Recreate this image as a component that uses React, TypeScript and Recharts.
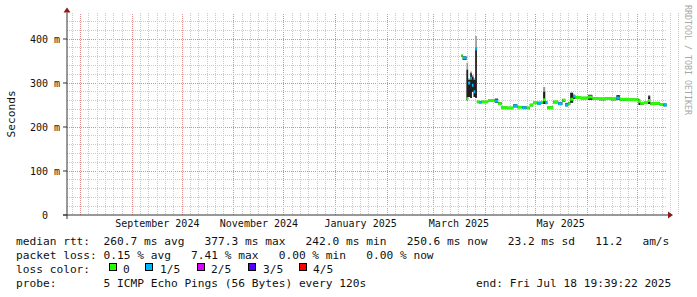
import React from "react";
import {
  ComposedChart,
  Line,
  Area,
  XAxis,
  YAxis,
  CartesianGrid,
  ReferenceDot,
  ReferenceLine,
  Label,
} from "recharts";

const DAY = 86400000;
const END = Date.UTC(2025, 6, 18, 19, 39, 22);
const START = END - 360 * DAY;

// x axis labels
const xTickDates = ["2024-09-16", "2024-11-16", "2025-01-16", "2025-03-16", "2025-05-16"];
const xTickLabels = ["September 2024", "November 2024", "January 2025", "March 2025", "May 2025"];

// grid
const monthStarts = [
  "2024-08-01", "2024-09-01", "2024-10-01", "2024-11-01", "2024-12-01", "2025-01-01",
  "2025-02-01", "2025-03-01", "2025-04-01", "2025-05-01", "2025-06-01", "2025-07-01",
];
const minorDays = [6, 11, 16, 21, 26];
const yTicks = [0, 100, 200, 300, 400];
const yMajor = [100, 200, 300, 400];
const yMinor = [20, 40, 60, 80, 120, 140, 160, 180, 220, 240, 260, 280, 320, 340, 360, 380, 420, 440];

// probe results
const times = [
  "2025-03-17T12:00Z", "2025-03-18T06:00Z", "2025-03-20T12:00Z", "2025-03-21T12:00Z",
  "2025-03-22T18:00Z", "2025-03-23T18:00Z", "2025-03-24T18:00Z", "2025-03-25T18:00Z",
  "2025-03-26T18:00Z", "2025-03-28T00:00Z", "2025-03-29T12:00Z", "2025-04-02T12:00Z",
  "2025-04-06T12:00Z", "2025-04-08T12:00Z", "2025-04-10T12:00Z", "2025-04-14T00:00Z",
  "2025-04-17T12:00Z", "2025-04-20T00:00Z", "2025-04-23T00:00Z", "2025-04-25T12:00Z",
  "2025-04-27T12:00Z", "2025-04-29T12:00Z", "2025-05-02T00:00Z", "2025-05-04T06:00Z",
  "2025-05-05T12:00Z", "2025-05-06T18:00Z", "2025-05-08T00:00Z", "2025-05-11T12:00Z",
  "2025-05-14T12:00Z", "2025-05-17T00:00Z", "2025-05-18T18:00Z", "2025-05-20T12:00Z",
  "2025-05-21T18:00Z", "2025-05-23T12:00Z", "2025-05-24T18:00Z", "2025-05-28T00:00Z",
  "2025-06-01T12:00Z", "2025-06-04T00:00Z", "2025-06-08T00:00Z", "2025-06-12T00:00Z",
  "2025-06-15T00:00Z", "2025-06-18T12:00Z", "2025-06-20T12:00Z", "2025-06-25T00:00Z",
  "2025-07-01T18:00Z", "2025-07-02T18:00Z", "2025-07-05T00:00Z", "2025-07-07T12:00Z",
  "2025-07-08T18:00Z", "2025-07-11T12:00Z", "2025-07-14T12:00Z", "2025-07-16T18:00Z",
  "2025-07-18T12:00Z",
];
const median = [
  362, 357, 264, 300, 311, 295, 280, 377, 257, 256, 257, 260, 259, 253, 244, 243, 248, 245,
  244, 243, 250, 255, 254, 256, 262, 255, 244, 257, 253, 261, 250, 253, 263, 270, 267, 266,
  268, 265, 264, 265, 264, 266, 263, 262, 258, 254, 255, 260, 253, 254, 251, 250, 250,
];
const loss = [
  0, 1, 0, 1, 1, 1, 1, 1, 0, 1, 0, 0, 1, 0, 0, 0, 1, 0, 1, 0, 0, 0, 1, 0, 0, 1, 0, 0,
  1, 0, 1, 0, 0, 1, 0, 0, 0, 0, 0, 0, 0, 1, 0, 0, 0, 0, 0, 0, 0, 0, 0, 1, 0,
];
const smokeLow = [
  359, 352, 261, 268, 266, 280, 268, 266, 255, 254, 255, 258, 255, 251, 242, 241, 245, 243,
  242, 241, 247, 252, 251, 253, 252, 252, 242, 254, 250, 257, 247, 250, 255, 264, 264, 263,
  262, 262, 261, 262, 261, 262, 260, 259, 250, 251, 252, 252, 250, 251, 248, 247, 248,
];
const smokeHigh = [
  364, 360, 330, 307, 322, 314, 307, 380, 259, 258, 259, 262, 264, 256, 246, 245, 251, 247,
  247, 245, 252, 257, 257, 258, 280, 258, 246, 259, 256, 263, 254, 256, 277, 273, 269, 268,
  273, 267, 266, 267, 266, 272, 265, 264, 262, 256, 257, 270, 255, 256, 253, 253, 252,
];
const smokeTop = [
  364, 361, 346, 310, 326, 318, 311, 407, 260, 259, 260, 263, 265, 257, 247, 246, 252, 248,
  248, 246, 253, 258, 258, 259, 291, 259, 247, 260, 257, 264, 255, 257, 279, 274, 270, 269,
  274, 268, 267, 268, 267, 273, 266, 265, 263, 257, 258, 273, 256, 257, 254, 254, 253,
];

const lossColors = ["#26ff00", "#00b8ff", "#dd00ff", "#5500ff", "#ff0000"];
const lossLabels = ["0", "1/5", "2/5", "3/5", "4/5"];

const T = times.map((s) => Date.parse(s));
const data = T.map((t, i) => ({
  t,
  outer: [smokeLow[i], smokeTop[i]],
  inner: [smokeLow[i], smokeHigh[i]],
}));

// smokeping draws the median as short flat bars, one per sample, coloured by loss
function medianBars(level: number) {
  const out: { t: number; v: number | null }[] = [];
  for (let i = 0; i < T.length; i++) {
    if (loss[i] !== level) continue;
    const tNext = i === T.length - 1 ? END : T[i + 1];
    out.push({ t: T[i], v: median[i] });
    out.push({ t: tNext, v: median[i] });
    out.push({ t: tNext, v: null });
  }
  return out;
}

const mono = "'DejaVu Sans Mono', monospace";
const majorX = monthStarts.map((m) => Date.parse(m + "T00:00Z"));
const minorX = monthStarts
  .flatMap((m) => minorDays.map((d) => Date.parse(m.slice(0, 8) + String(d).padStart(2, "0") + "T00:00Z")))
  .concat([Date.parse("2024-07-27T00:00Z")]);

const ARROW = "#8b1a1a";
const AXIS = "#333";
const GRID = "#cbcbcb";
const MGRID = "#e38a8a";
const W = 697;
const H = 297;
const layer: React.CSSProperties = { position: "absolute", left: 0, top: 0 };

function YTick({ x, y, payload }: any) {
  const v = payload.value;
  return (
    <text
      x={x}
      y={y}
      dy="0.355em"
      textAnchor="end"
      fontFamily={mono}
      fontSize={10}
      fill="#111"
      style={{ whiteSpace: "pre" }}
    >
      {v === 0 ? "0  " : `${v} m`}
    </text>
  );
}

export default function App() {
  const legendRows = [
    "median rtt:  260.7 ms avg   377.3 ms max   242.0 ms min   250.6 ms now   23.2 ms sd   11.2   am/s",
    "packet loss: 0.15 % avg   7.41 % max   0.00 % min   0.00 % now",
    "loss color:",
    "probe:       5 ICMP Echo Pings (56 Bytes) every 120s",
  ];
  const boxX = [109, 145, 197, 248, 299];
  const boxLabelX = [123, 160, 211, 263, 313];

  return (
    <div
      style={{
        position: "absolute",
        left: 0,
        top: 0,
        width: W,
        height: H,
        background: "#fff",
        overflow: "hidden",
      }}
    >
      <style>{`.recharts-cartesian-grid line, .recharts-reference-line line { shape-rendering: crispEdges; }`}</style>
      {/* major (red) grid, underneath everything */}
      <div style={layer}>
        <ComposedChart
          width={W}
          height={H}
          data={data}
          margin={{ top: 12.6, right: 30, left: 8, bottom: 62 }}
        >
          <XAxis dataKey="t" type="number" domain={[START, END]} allowDataOverflow height={20} tick={false} axisLine={false} tickLine={false} />
          <YAxis type="number" domain={[0, 460]} allowDataOverflow width={59} tick={false} axisLine={false} tickLine={false} />
          {majorX.map((x) => (
            <ReferenceLine key={"mx" + x} x={x} stroke={MGRID} strokeDasharray="1 1" />
          ))}
          {yMajor.map((y) => (
            <ReferenceLine key={"my" + y} y={y} stroke={MGRID} strokeDasharray="1 1" />
          ))}
        </ComposedChart>
      </div>

      <div style={layer}>
        <ComposedChart
          width={W}
          height={H}
          data={data}
          margin={{ top: 12.6, right: 30, left: 8, bottom: 62 }}
        >
          <CartesianGrid
            stroke={GRID}
            strokeDasharray="1 1"
            verticalValues={minorX}
            horizontalValues={yMinor}
          />
          <XAxis
            dataKey="t"
            type="number"
            domain={[START, END]}
            allowDataOverflow
            ticks={xTickDates.map((d) => Date.parse(d + "T00:00Z"))}
            tickFormatter={(v: number) =>
              xTickLabels[xTickDates.findIndex((d) => Date.parse(d + "T00:00Z") === v)]
            }
            tick={{ fontFamily: mono, fontSize: 10, fill: "#111" }}
            tickLine={false}
            tickSize={4}
            tickMargin={1}
            height={20}
            axisLine={{ stroke: AXIS }}
            interval={0}
          />
          <YAxis
            type="number"
            domain={[0, 460]}
            allowDataOverflow
            ticks={yTicks}
            tick={<YTick />}
            tickSize={4}
            tickMargin={3}
            tickLine={{ stroke: AXIS }}
            axisLine={{ stroke: AXIS }}
            width={59}
            interval={0}
          >
            <Label
              content={({ viewBox }: any) => {
                const cx = 15;
                const cy = viewBox.y + viewBox.height / 2;
                return (
                  <text
                    x={cx}
                    y={cy}
                    transform={`rotate(-90, ${cx}, ${cy})`}
                    textAnchor="middle"
                    fontFamily={mono}
                    fontSize={11.2}
                    fill="#111"
                  >
                    Seconds
                  </text>
                );
              }}
            />
          </YAxis>
          <Area
            dataKey="outer"
            type="stepAfter"
            stroke="none"
            fill="#9a9a9a"
            fillOpacity={1}
            isAnimationActive={false}
            activeDot={false}
          />
          <Area
            dataKey="inner"
            type="stepAfter"
            stroke="none"
            fill="#1e1e1e"
            fillOpacity={1}
            isAnimationActive={false}
            activeDot={false}
          />
          {lossColors.slice(0, 2).map((c, level) => (
            <Line
              key={c}
              data={medianBars(level)}
              dataKey="v"
              type="linear"
              stroke={c}
              strokeWidth={3}
              strokeLinecap="butt"
              dot={false}
              activeDot={false}
              connectNulls={false}
              isAnimationActive={false}
            />
          ))}
          <ReferenceDot
            x={START}
            y={0}
            r={0}
            ifOverflow="visible"
            shape={(p: any) => (
              <g>
                <line x1={p.cx - 4} x2={p.cx} y1={p.cy} y2={p.cy} stroke={AXIS} />
                <line x1={p.cx} x2={p.cx} y1={p.cy} y2={p.cy + 4} stroke={AXIS} />
              </g>
            )}
          />
          <ReferenceDot
            x={END}
            y={0}
            r={0}
            ifOverflow="visible"
            shape={(p: any) => (
              <g>
                <line x1={p.cx} x2={p.cx + 2} y1={p.cy} y2={p.cy} stroke={AXIS} />
                <polygon
                  points={`${p.cx + 1},${p.cy - 3.5} ${p.cx + 1},${p.cy + 3.5} ${p.cx + 6},${p.cy}`}
                  fill={ARROW}
                />
              </g>
            )}
          />
          <ReferenceDot
            x={START}
            y={460}
            r={0}
            ifOverflow="visible"
            shape={(p: any) => (
              <polygon
                points={`${p.cx - 3.5},${p.cy} ${p.cx + 3.5},${p.cy} ${p.cx},${p.cy - 5}`}
                fill={ARROW}
              />
            )}
          />
        </ComposedChart>
      </div>

      <div
        style={{
          position: "absolute",
          left: 692,
          top: 5,
          transform: "rotate(90deg)",
          transformOrigin: "0 0",
          fontFamily: mono,
          fontSize: 8.3,
          lineHeight: "9px",
          color: "#a8a8a8",
          whiteSpace: "pre",
        }}
      >
        RRDTOOL / TOBI OETIKER
      </div>

      {legendRows.map((row, i) => (
        <div
          key={i}
          style={{
            position: "absolute",
            left: 16,
            top: 234.5 + i * 14,
            fontFamily: mono,
            fontSize: 11.2,
            lineHeight: "14px",
            color: "#111",
            whiteSpace: "pre",
          }}
        >
          {row}
        </div>
      ))}
      {lossColors.map((c, i) => (
        <React.Fragment key={c}>
          <div
            style={{
              position: "absolute",
              left: boxX[i],
              top: 263,
              width: 8,
              height: 8,
              boxSizing: "border-box",
              border: "1px solid #000",
              background: c,
            }}
          />
          <div
            style={{
              position: "absolute",
              left: boxLabelX[i],
              top: 262.5,
              fontFamily: mono,
              fontSize: 11.2,
              lineHeight: "14px",
              color: "#111",
              whiteSpace: "pre",
            }}
          >
            {lossLabels[i]}
          </div>
        </React.Fragment>
      ))}
      <div
        style={{
          position: "absolute",
          left: 476,
          top: 276.5,
          fontFamily: mono,
          fontSize: 11.2,
          lineHeight: "14px",
          color: "#111",
          whiteSpace: "pre",
        }}
      >
        end: Fri Jul 18 19:39:22 2025
      </div>
    </div>
  );
}
